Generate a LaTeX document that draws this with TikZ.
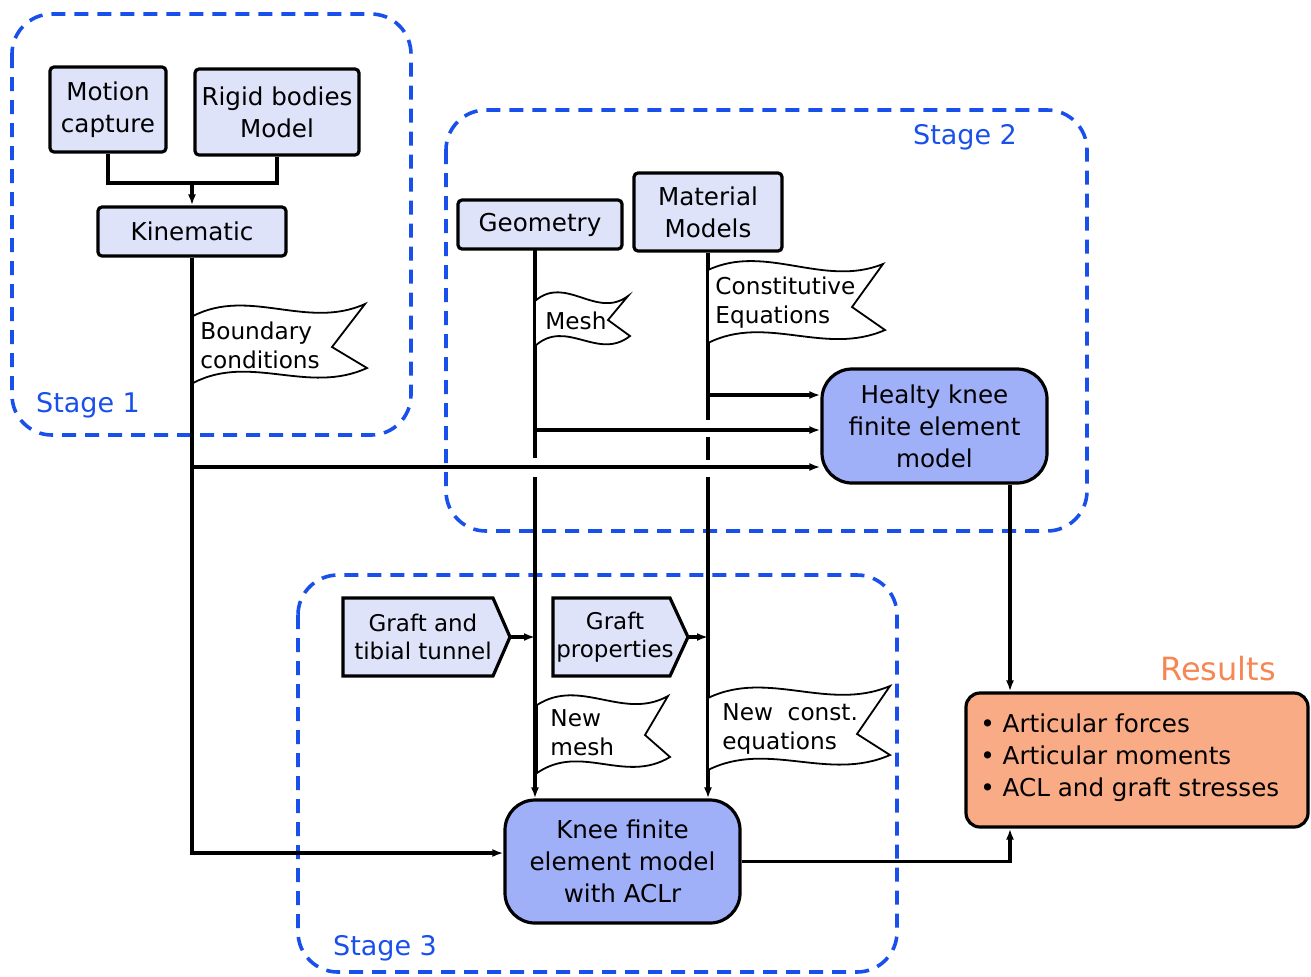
\documentclass[tikz,border=0pt]{standalone}
\usepackage{fontspec}
\setmainfont{DejaVu Sans}
\usetikzlibrary{arrows.meta}
\definecolor{stageblue}{RGB}{25,80,235}
\definecolor{boxfill}{RGB}{222,227,250}
\definecolor{modelfill}{RGB}{160,176,248}
\definecolor{resfill}{RGB}{249,171,133}
\definecolor{resorange}{RGB}{245,135,85}
% flag: x0, ytop, xtr, ytr, xn, yn, xbr, ybr, ybot
\newcommand\drawflag[9]{%
  \draw[flagshape] (#1,#2)
    .. controls ({#1+0.33*(#3-#1)},{#2+0.33*(#4-#2)-25}) and ({#1+0.66*(#3-#1)},{#2+0.66*(#4-#2)+22}) .. (#3,#4)
    -- (#5,#6) -- (#7,#8)
    .. controls ({#1+0.66*(#7-#1)},{#9+0.66*(#8-#9)+22}) and ({#1+0.33*(#7-#1)},{#9+0.33*(#8-#9)-25}) .. (#1,#9)
    -- cycle;}
\begin{document}
\begin{tikzpicture}[x=0.5pt,y=-0.5pt,
 font=\fontsize{12.3}{16}\selectfont,
 stage/.style={draw=stageblue, line width=1.8pt, dash pattern=on 7pt off 4.5pt, rounded corners=20pt},
 stagelabel/.style={text=stageblue, font=\fontsize{13.5}{16}\selectfont},
 inbox/.style={draw=black, line width=1.6pt, fill=boxfill, rounded corners=2pt, align=center, inner sep=0pt},
 model/.style={draw=black, line width=1.6pt, fill=modelfill, rounded corners=15pt, align=center, inner sep=0pt},
 conn/.style={draw=black, line width=1.6pt},
 arr/.style={conn, -{Latex[length=5.5pt,width=4pt]}},
 flagshape/.style={draw=black, line width=0.9pt, fill=white},
 flagtext/.style={align=left, anchor=west, inner sep=0pt, font=\fontsize{11.6}{14.5}\selectfont},
 grafttext/.style={align=center, font=\fontsize{11.5}{14}\selectfont},
]
\useasboundingbox (0,0) rectangle (1311,976);

% stages
\draw[stage] (12,14) rectangle (411,435);
\draw[stage] (446,110) rectangle (1087,531);
\draw[stage] (298,575) rectangle (897,972);
\node[stagelabel] (s1) at (88,405) {Stage 1};
\node[stagelabel] (s2) at (965,137) {Stage 2};
\node[stagelabel] (s3) at (385,948) {Stage 3};

% boxes
\node[inbox, minimum width=58pt, minimum height=42.5pt] (mc) at (108,109.5) {Motion\\capture};
\node[inbox, minimum width=82pt, minimum height=43pt] (rb) at (277,112) {Rigid bodies\\Model};
\node[inbox, minimum width=94pt, minimum height=24.5pt] (kin) at (192,231.5) {Kinematic};
\node[inbox, minimum width=82pt, minimum height=24.5pt] (geo) at (540,224.5) {Geometry};
\node[inbox, minimum width=74pt, minimum height=39pt] (mat) at (708,212) {Material\\Models};
\node[model, minimum width=112.5pt, minimum height=57pt] (hk) at (934.5,426) {Healty knee\\finite element\\model};
\node[model, minimum width=117.5pt, minimum height=61.5pt] (kfe) at (622.5,861.5) {Knee finite\\element model\\with ACLr};
\node[draw=black, line width=1.6pt, fill=resfill, rounded corners=7pt, minimum width=171pt, minimum height=67pt] (res) at (1137,760) {};
\node[anchor=west, align=left, inner sep=0pt] (reslist) at (980,758) {\textbullet\ Articular forces\\\textbullet\ Articular moments\\\textbullet\ ACL and graft stresses};
\node[text=resorange, font=\fontsize{16}{18}\selectfont] (reslabel) at (1218,669) {Results};

% graft pentagons
\filldraw[draw=black, line width=1.6pt, fill=boxfill] (343,598) -- (493,598) -- (510,637) -- (493,676) -- (343,676) -- cycle;
\node[grafttext] (gt) at (423,637) {Graft and\\tibial tunnel};
\filldraw[draw=black, line width=1.6pt, fill=boxfill] (553,598) -- (670,598) -- (688,637) -- (670,676) -- (553,676) -- cycle;
\node[grafttext] (gp) at (615,637) {Graft\\properties};
\coordinate (gttip) at (510,637);
\coordinate (gptip) at (688,637);

% helper coordinates
\coordinate (j1) at (192,183);
\coordinate (gtop) at (535,249);
\coordinate (rx) at (1010,0);
\coordinate (kinturn) at (192,853);
\coordinate (m1) at (708,395);
\coordinate (g1) at (535,430);
\coordinate (k1) at (192,467);

% connectors
\draw[conn] (mc.south) -- (mc.south |- j1) -| (rb.south);
\draw[arr] (j1) -- (kin.north);
\draw[arr] (kin.south) -- (kinturn) -- (kinturn -| kfe.west);
\draw[arr] (k1) -- (k1 -| hk.west);
\draw[arr] (gtop) -- (535,458) (535,477) -- (gtop |- kfe.north);
\draw[arr] (mat.south) -- (708,420) (708,437) -- (708,460) (708,477) -- (mat.south |- kfe.north);
\draw[arr] (m1) -- (m1 -| hk.west);
\draw[arr] (g1) -- (g1 -| hk.west);
\draw[arr] (gttip) -- (gttip -| gtop);
\draw[arr] (gptip) -- (gptip -| m1);
\draw[arr] (hk.south -| rx) -- (rx |- res.north);
\draw[arr] (kfe.east) -- (kfe.east -| rx) -- (rx |- res.south);

% flags
\drawflag{193}{316}{365}{304}{332}{347}{367}{368}{383}
\node[flagtext] (bc) at (200,345) {Boundary\\conditions};
\drawflag{535}{301}{628}{296}{608}{320}{630}{336}{346}
\node[flagtext] (mesh) at (545,321) {Mesh};
\drawflag{708}{270}{883}{264}{852}{307}{885}{330}{343}
\node[flagtext] (ce) at (715,303) {Constitutive\\Equations};
\drawflag{537}{705}{668}{696}{645}{735}{670}{757}{773}
\node[flagtext] (nm) at (550,733) {New\\mesh};
\drawflag{708}{698}{890}{686}{857}{734}{890}{755}{770}
\node[flagtext] (nc) at (722,729) {New\ \ const.\\equations};
\end{tikzpicture}
\end{document}
